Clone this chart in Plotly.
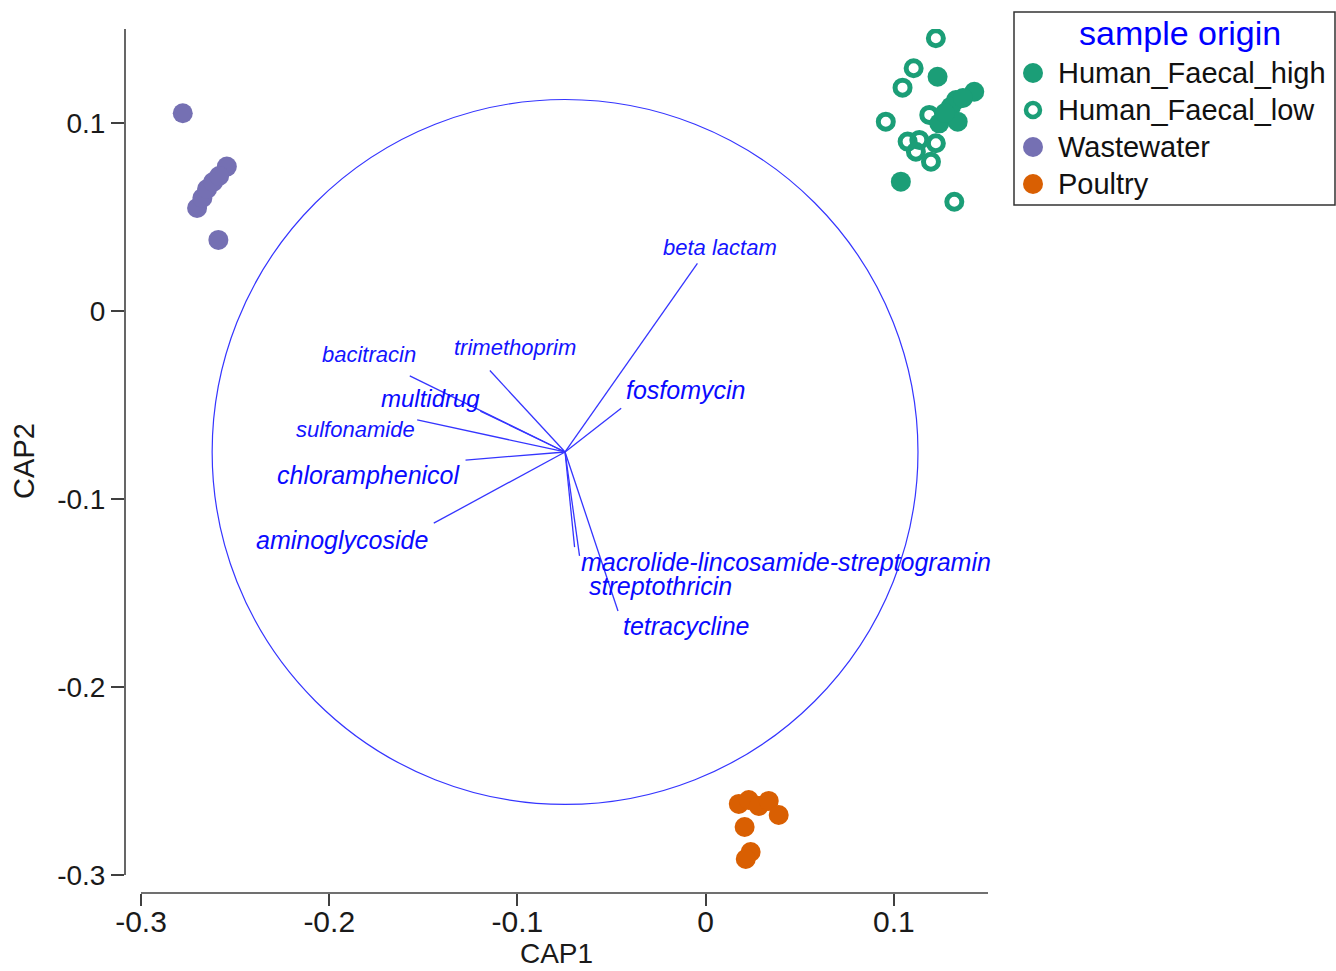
import plotly.graph_objects as go

# ---- sample scores on the first two canonical axes ----
hf_high_x = [0.1232, 0.1427, 0.1330, 0.1303, 0.1367, 0.1241, 0.1339, 0.1037, 0.1271]
hf_high_y = [0.1246, 0.1166, 0.1122, 0.1087, 0.1133, 0.0998, 0.1007, 0.0688, 0.1053]

hf_low_x = [0.1223, 0.1105, 0.1046, 0.1188, 0.0957, 0.1073, 0.1135, 0.1223, 0.1117, 0.1197, 0.1321]
hf_low_y = [0.1451, 0.1291, 0.1188, 0.1043, 0.1007, 0.0901, 0.0910, 0.0892, 0.0847, 0.0794, 0.0581]

ww_x = [-0.2778, -0.2544, -0.2589, -0.2702, -0.2674, -0.2649, -0.2617, -0.2585]
ww_y = [0.1052, 0.0768, 0.0378, 0.0548, 0.0601, 0.0649, 0.0686, 0.0718]

poultry_x = [0.0176, 0.0229, 0.0282, 0.0335, 0.0388, 0.0207, 0.0239, 0.0213]
poultry_y = [-0.2622, -0.2601, -0.2633, -0.2606, -0.2681, -0.2745, -0.2878, -0.2915]

# ---- correlations of antibiotic classes with CAP1 / CAP2 ----
classes = ["beta lactam", "fosfomycin", "trimethoprim", "bacitracin", "multidrug",
           "sulfonamide", "chloramphenicol", "aminoglycoside",
           "macrolide-lincosamide-streptogramin", "streptothricin", "tetracycline"]
corr_cap1 = [0.375, 0.159, -0.213, -0.440, -0.240, -0.419, -0.282, -0.372, 0.027, 0.041, 0.150]
corr_cap2 = [0.535, 0.124, 0.231, 0.216, 0.116, 0.091, -0.023, -0.202, -0.270, -0.295, -0.451]

x_ticks = [-0.3, -0.2, -0.1, 0, 0.1]
x_tick_text = ["-0.3", "-0.2", "-0.1", "0", "0.1"]
y_ticks = [0.1, 0, -0.1, -0.2, -0.3]
y_tick_text = ["0.1", "0", "-0.1", "-0.2", "-0.3"]

groups = ["Human_Faecal_high", "Human_Faecal_low", "Wastewater", "Poultry"]

# correlation circle placement (unit circle scaled into score space)
circ_cx, circ_cy, circ_r = -0.0747, -0.0750, 0.1875

GREEN = "#1b9e77"
PURPLE = "#7570b3"
ORANGE = "#d95f02"
BLUE = "#3535ff"
TXT_BLUE = "#1414ff"
AXIS = "#404040"
INK = "#1a1a1a"

SANS = "Liberation Sans, Arial, sans-serif"

W, H = 1336, 971
ML, MR, MT, MB = 125, 348, 29, 78
PW, PH = W - ML - MR, H - MT - MB


def px(xp):
    """page pixel x -> paper x"""
    return (xp - ML) / PW


def py(yp):
    """page pixel y -> paper y"""
    return (H - MB - yp) / PH


fig = go.Figure()

# vectors from the circle centre
vx, vy = [], []
for c1, c2 in zip(corr_cap1, corr_cap2):
    vx += [circ_cx, circ_cx + circ_r * c1, None]
    vy += [circ_cy, circ_cy + circ_r * c2, None]
fig.add_trace(go.Scatter(x=vx, y=vy, mode="lines", line=dict(color=BLUE, width=1.3),
                         showlegend=False, hoverinfo="skip"))

fig.add_trace(go.Scatter(x=hf_low_x, y=hf_low_y, mode="markers", name=groups[1],
                         showlegend=False,
                         marker=dict(symbol="circle-open", size=15, color=GREEN,
                                     line=dict(width=5, color=GREEN))))
fig.add_trace(go.Scatter(x=hf_high_x, y=hf_high_y, mode="markers", name=groups[0],
                         showlegend=False,
                         marker=dict(symbol="circle", size=20, color=GREEN)))
fig.add_trace(go.Scatter(x=ww_x, y=ww_y, mode="markers", name=groups[2],
                         showlegend=False,
                         marker=dict(symbol="circle", size=20, color=PURPLE)))
fig.add_trace(go.Scatter(x=poultry_x, y=poultry_y, mode="markers", name=groups[3],
                         showlegend=False,
                         marker=dict(symbol="circle", size=20, color=ORANGE)))

# label styling: (size, anchor, xshift, yshift)
label_style = {
    "beta lactam": (22, "center", 23, 16),
    "fosfomycin": (25, "center", 64, 18),
    "trimethoprim": (22, "center", 25, 23),
    "bacitracin": (22, "center", -41, 21),
    "multidrug": (24, "center", -50, 13),
    "sulfonamide": (22, "center", -62, -10),
    "chloramphenicol": (25, "center", -97, -15),
    "aminoglycoside": (25, "center", -92, -17),
    "macrolide-lincosamide-streptogramin": (25, "left", 4, -15),
    "streptothricin": (25, "left", 7, -30),
    "tetracycline": (25, "left", 3, -15),
}
for name, c1, c2 in zip(classes, corr_cap1, corr_cap2):
    sz, anc, dx, dy = label_style[name]
    fig.add_annotation(x=circ_cx + circ_r * c1, y=circ_cy + circ_r * c2, text=name,
                       showarrow=False, xanchor=anc, yanchor="middle",
                       xshift=dx, yshift=dy,
                       font=dict(family=SANS, size=sz,
                                 color=TXT_BLUE if sz < 24 else "#0a0aff",
                                 style="italic"))

x_min, x_max = -0.3085, 0.15
y_min, y_max = -0.3096, 0.15

shapes = [
    dict(type="circle", xref="x", yref="y",
         x0=circ_cx - circ_r, x1=circ_cx + circ_r,
         y0=circ_cy - circ_r, y1=circ_cy + circ_r,
         line=dict(color=BLUE, width=1.2), layer="below"),
    # detached axis lines
    dict(type="line", xref="x", yref="paper", x0=-0.3, x1=x_max, y0=0, y1=0,
         line=dict(color=AXIS, width=1.6)),
    dict(type="line", xref="paper", yref="y", x0=0, x1=0, y0=-0.3, y1=y_max,
         line=dict(color=AXIS, width=1.6)),
    # legend frame
    dict(type="rect", xref="paper", yref="paper",
         x0=px(1014), x1=px(1335), y0=py(205), y1=py(12),
         line=dict(color="#333333", width=1.5), fillcolor="white"),
]

# legend rows: marker style per group
legend_rows = [
    (groups[0], GREEN, "filled"),
    (groups[1], GREEN, "ring"),
    (groups[2], PURPLE, "filled"),
    (groups[3], ORANGE, "filled"),
]
row_y = [73, 110, 147, 184]
for (label, col, kind), yy in zip(legend_rows, row_y):
    if kind == "filled":
        shapes.append(dict(type="circle", xref="paper", yref="paper",
                           xsizemode="pixel", ysizemode="pixel",
                           xanchor=px(1033), yanchor=py(yy),
                           x0=-10, x1=10, y0=-10, y1=10,
                           fillcolor=col, line=dict(width=0)))
    else:
        shapes.append(dict(type="circle", xref="paper", yref="paper",
                           xsizemode="pixel", ysizemode="pixel",
                           xanchor=px(1033), yanchor=py(yy),
                           x0=-7, x1=7, y0=-7, y1=7,
                           fillcolor="white", line=dict(width=4.5, color=col)))
    fig.add_annotation(xref="paper", yref="paper", x=px(1056), y=py(yy), text=label,
                       showarrow=False, xanchor="left", yanchor="middle",
                       font=dict(family=SANS, size=29, color="#111111"))

fig.add_annotation(xref="paper", yref="paper", x=px(1180), y=py(33), text="sample origin",
                   showarrow=False, xanchor="center", yanchor="middle",
                   font=dict(family=SANS, size=34, color="#0000ff"))

fig.update_layout(
    width=W, height=H,
    margin=dict(l=ML, r=MR, t=MT, b=MB, autoexpand=False),
    plot_bgcolor="white", paper_bgcolor="white",
    shapes=shapes,
    showlegend=False,
    xaxis=dict(range=[x_min, x_max], tickvals=x_ticks, ticktext=x_tick_text,
               showgrid=False, zeroline=False, showline=False,
               ticks="outside", ticklen=12, tickwidth=1.6, tickcolor=AXIS,
               ticklabelstandoff=-10,
               tickfont=dict(family=SANS, size=30, color=INK),
               title=dict(text="CAP1", font=dict(family=SANS, size=28, color=INK),
                          standoff=6)),
    yaxis=dict(range=[y_min, y_max], tickvals=y_ticks, ticktext=y_tick_text,
               showgrid=False, zeroline=False, showline=False,
               ticks="outside", ticklen=13, tickwidth=1.6, tickcolor=AXIS,
               tickfont=dict(family=SANS, size=28, color=INK),
               title=dict(text="CAP2", font=dict(family=SANS, size=29, color=INK),
                          standoff=14)),
)

fig.write_html("out.html")
